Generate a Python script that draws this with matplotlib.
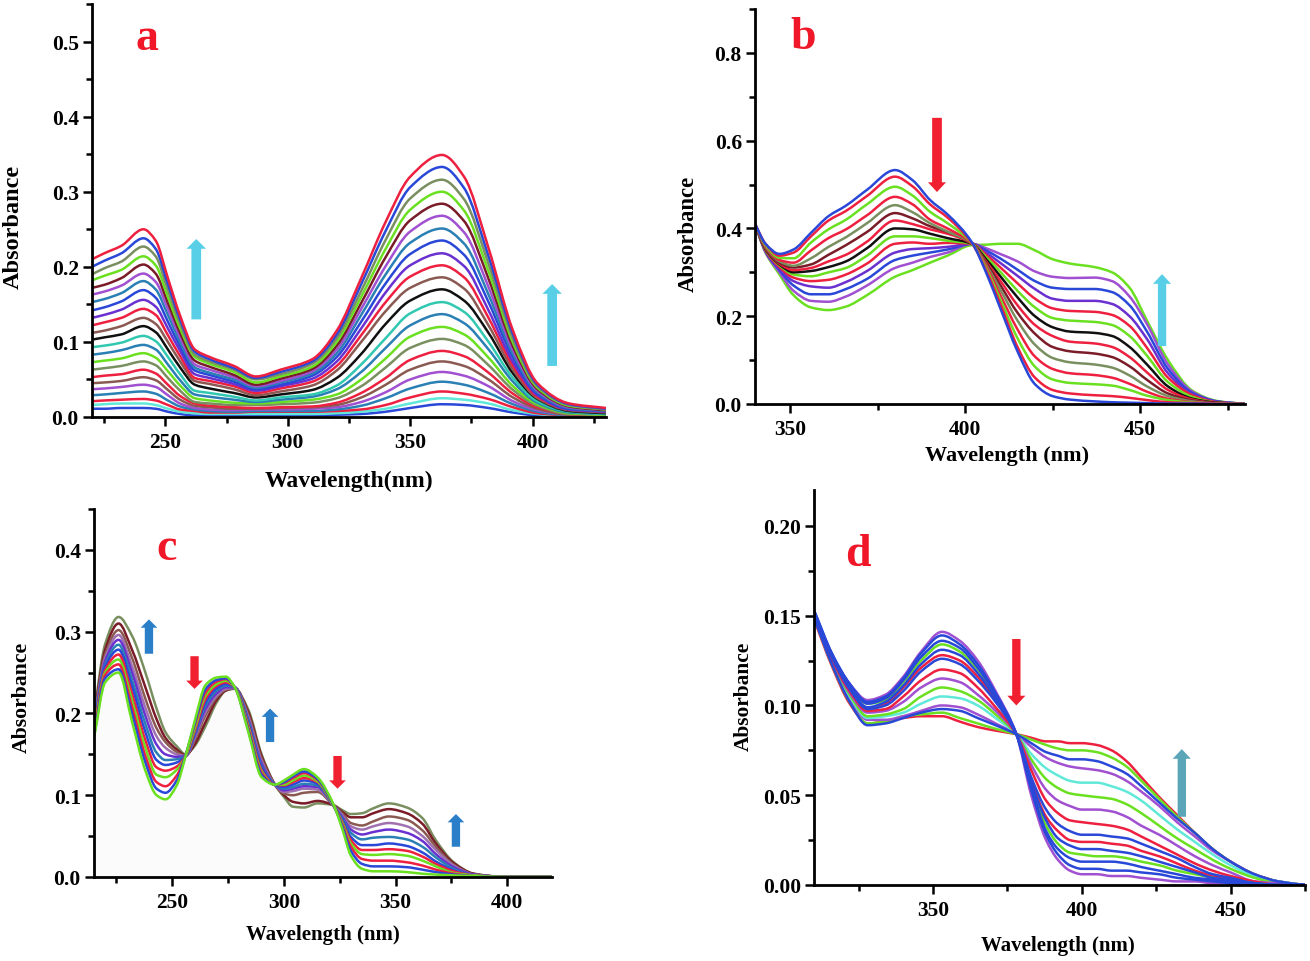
import matplotlib
matplotlib.use('Agg')
import matplotlib.pyplot as plt
import numpy as np
from matplotlib.patches import PathPatch
from matplotlib.path import Path
from matplotlib.ticker import MultipleLocator, FormatStrFormatter

plt.rcParams['font.family'] = ['Liberation Serif', 'DejaVu Serif']
plt.rcParams['font.weight'] = 'bold'

# all absorbance rows below are in units of 0.001
RED = '#ee2040'; BLUE = '#2a48d8'; GREEN = '#6ae020'; PURPLE = '#a050d0'; VIOLET = '#6a30d0'
OLIVE = '#7a8f60'; DKRED = '#7a1c28'; TEAL = '#2a80b4'; BROWN = '#8a5a52'; BLACK = '#101010'
AQUA = '#30c8b0'; MAUVE = '#a070b0'; LTAQUA = '#60e8d8'

wl_a = [220, 225, 232, 241, 246, 251, 256, 262, 268, 278, 287, 297, 310, 320, 330, 340, 350, 363, 372, 382, 392, 402, 415, 430]
abs_a = [
    [11, 11, 12, 12, 11, 7, 4, 2, 2, 2, 2, 2, 2, 3, 4, 7, 12, 17, 16, 12, 6, 2, 1, 0],
    [16, 17, 18, 18, 16, 11, 7, 5, 4, 4, 4, 4, 4, 5, 7, 11, 18, 25, 23, 18, 9, 4, 1, 1],
    [21, 22, 23, 24, 22, 16, 10, 8, 6, 6, 7, 7, 7, 8, 10, 16, 26, 34, 31, 24, 13, 5, 2, 1],
    [29, 30, 32, 34, 31, 22, 14, 10, 8, 7, 8, 8, 8, 10, 15, 25, 38, 47, 43, 32, 17, 7, 2, 1],
    [37, 38, 40, 43, 40, 29, 18, 12, 10, 9, 10, 10, 11, 13, 20, 33, 50, 60, 55, 41, 21, 9, 3, 2],
    [45, 46, 48, 53, 49, 36, 23, 15, 13, 11, 11, 12, 13, 16, 26, 43, 63, 74, 68, 50, 26, 11, 3, 2],
    [53, 55, 57, 63, 58, 43, 28, 18, 15, 13, 12, 13, 14, 19, 32, 52, 76, 88, 81, 59, 31, 13, 4, 2],
    [63, 65, 68, 74, 69, 52, 35, 20, 18, 16, 16, 17, 19, 25, 41, 66, 92, 104, 96, 69, 36, 15, 4, 3],
    [73, 75, 78, 85, 79, 61, 42, 25, 22, 19, 18, 20, 23, 30, 50, 78, 107, 120, 110, 79, 41, 17, 5, 3],
    [83, 85, 89, 96, 90, 70, 49, 30, 27, 23, 20, 23, 27, 37, 60, 92, 122, 137, 125, 90, 47, 19, 6, 4],
    [93, 95, 99, 108, 101, 80, 57, 35, 32, 27, 22, 26, 30, 42, 70, 105, 138, 153, 140, 100, 52, 21, 7, 4],
    [103, 106, 110, 121, 113, 90, 66, 43, 38, 32, 26, 30, 36, 52, 84, 124, 155, 170, 155, 112, 58, 24, 8, 5],
    [112, 115, 121, 132, 124, 100, 74, 48, 44, 37, 29, 34, 42, 62, 100, 141, 172, 186, 171, 122, 63, 25, 9, 6],
    [122, 126, 132, 144, 136, 109, 81, 52, 48, 41, 32, 38, 47, 68, 109, 153, 187, 202, 186, 132, 68, 27, 10, 7],
    [132, 136, 143, 156, 147, 118, 88, 57, 52, 44, 35, 41, 51, 74, 118, 166, 202, 218, 201, 142, 73, 29, 10, 7],
    [142, 146, 154, 169, 159, 127, 94, 62, 56, 47, 37, 43, 55, 80, 127, 178, 217, 235, 216, 153, 79, 31, 11, 8],
    [153, 157, 165, 181, 170, 136, 100, 66, 59, 50, 39, 46, 58, 85, 136, 190, 232, 251, 231, 163, 84, 33, 12, 8],
    [163, 167, 175, 191, 180, 144, 106, 70, 63, 53, 41, 48, 61, 90, 144, 201, 247, 268, 246, 173, 89, 35, 13, 9],
    [172, 176, 185, 203, 191, 152, 112, 75, 67, 56, 43, 51, 64, 95, 152, 213, 262, 284, 261, 184, 94, 37, 14, 9],
    [182, 188, 196, 214, 202, 160, 118, 80, 71, 60, 46, 54, 67, 100, 160, 224, 276, 300, 275, 194, 99, 39, 15, 10],
    [190, 198, 207, 227, 214, 169, 124, 83, 74, 63, 50, 57, 71, 105, 168, 236, 291, 316, 290, 204, 104, 41, 16, 10],
    [200, 208, 218, 238, 224, 177, 130, 87, 77, 65, 52, 60, 74, 110, 177, 248, 306, 333, 305, 214, 110, 43, 17, 11],
    [210, 218, 228, 250, 235, 185, 135, 90, 80, 68, 54, 63, 77, 115, 185, 260, 320, 349, 320, 225, 115, 45, 18, 12],
]
colors_a = [BLUE, LTAQUA, RED, TEAL, PURPLE, BROWN, RED, OLIVE, GREEN, TEAL, AQUA, BLACK,
            BROWN, RED, VIOLET, BLUE, TEAL, PURPLE, DKRED, GREEN, OLIVE, BLUE, RED]

wl_b = [340, 343, 347, 351, 356, 361, 366, 372, 380, 385, 390, 395, 402, 406, 410, 415, 420, 425, 430, 437, 442, 447, 452, 458, 465, 472, 480]
abs_b = [
    [410, 345, 295, 248, 220, 214, 222, 248, 290, 305, 322, 338, 362, 363, 365, 365, 350, 330, 320, 312, 300, 265, 190, 100, 30, 7, 0],
    [410, 346, 300, 258, 235, 233, 245, 270, 310, 322, 335, 345, 365, 355, 342, 325, 302, 290, 287, 288, 280, 245, 182, 90, 28, 6, 0],
    [410, 348, 305, 270, 250, 250, 262, 285, 328, 338, 345, 352, 365, 350, 332, 306, 280, 265, 262, 262, 255, 225, 165, 80, 25, 6, 0],
    [410, 349, 308, 280, 268, 265, 278, 303, 345, 353, 355, 358, 365, 345, 322, 292, 262, 240, 235, 235, 228, 200, 148, 70, 22, 5, 0],
    [410, 350, 312, 288, 280, 283, 295, 320, 365, 368, 365, 367, 365, 340, 312, 275, 240, 218, 212, 210, 203, 178, 128, 60, 20, 4, 0],
    [410, 352, 316, 295, 291, 300, 310, 338, 382, 382, 378, 372, 365, 335, 302, 258, 220, 196, 190, 187, 180, 155, 110, 50, 16, 3, 0],
    [410, 353, 318, 300, 303, 312, 325, 355, 400, 398, 388, 378, 365, 330, 292, 243, 200, 175, 165, 162, 155, 130, 90, 40, 12, 3, 0],
    [410, 355, 320, 305, 310, 325, 340, 370, 418, 410, 398, 388, 365, 325, 282, 225, 180, 155, 142, 138, 130, 107, 72, 32, 10, 2, 0],
    [410, 356, 322, 311, 318, 340, 362, 392, 435, 423, 405, 392, 366, 322, 272, 208, 160, 130, 120, 115, 107, 86, 55, 24, 8, 2, 0],
    [410, 358, 325, 315, 332, 358, 380, 412, 453, 437, 412, 393, 366, 318, 262, 190, 135, 105, 95, 90, 83, 65, 40, 18, 6, 1, 0],
    [410, 360, 328, 322, 350, 378, 398, 430, 472, 455, 420, 400, 366, 315, 250, 170, 108, 80, 70, 66, 60, 46, 28, 12, 4, 1, 0],
    [410, 362, 333, 332, 368, 398, 420, 455, 495, 475, 438, 412, 366, 310, 240, 150, 85, 56, 48, 45, 42, 32, 19, 9, 3, 1, 0],
    [410, 365, 338, 345, 382, 418, 440, 474, 518, 496, 455, 425, 366, 305, 230, 130, 60, 32, 24, 20, 18, 14, 9, 4, 2, 1, 0],
    [410, 365, 342, 352, 390, 428, 452, 488, 533, 510, 465, 432, 368, 300, 220, 120, 45, 18, 10, 6, 4, 3, 2, 1, 1, 0, 0],
]
colors_b = [GREEN, PURPLE, BLUE, VIOLET, RED, GREEN, BLACK, RED, DKRED, OLIVE, RED, GREEN, RED, BLUE]

wl_c = [215, 220, 226, 232, 238, 243, 247, 252, 256, 260, 265, 270, 274, 278, 284, 290, 296, 300, 304, 309, 315, 322, 326, 330, 335, 340, 347, 355, 362, 368, 376, 385, 400, 420]
abs_c = [
    [200, 285, 318, 295, 250, 206, 177, 160, 150, 160, 185, 214, 228, 230, 205, 150, 113, 98, 86, 85, 90, 88, 82, 77, 78, 84, 90, 85, 72, 45, 18, 4, 0, 0],
    [195, 278, 310, 278, 232, 193, 170, 156, 149, 162, 190, 217, 228, 231, 202, 148, 113, 100, 92, 90, 93, 88, 80, 73, 73, 78, 83, 78, 65, 41, 17, 4, 0, 0],
    [192, 272, 302, 268, 218, 182, 165, 153, 148, 167, 198, 220, 229, 231, 199, 145, 113, 102, 100, 103, 104, 88, 78, 66, 63, 68, 74, 70, 57, 37, 15, 3, 0, 0],
    [190, 268, 296, 258, 207, 172, 158, 150, 148, 170, 202, 222, 230, 231, 196, 142, 113, 104, 105, 108, 107, 88, 76, 62, 58, 62, 66, 62, 50, 33, 14, 3, 0, 0],
    [187, 264, 290, 250, 197, 162, 150, 147, 148, 172, 206, 225, 232, 232, 193, 139, 113, 106, 108, 111, 110, 88, 74, 58, 52, 55, 58, 54, 44, 28, 12, 3, 0, 0],
    [185, 260, 284, 241, 187, 152, 143, 144, 148, 174, 210, 228, 234, 232, 191, 136, 113, 108, 110, 114, 112, 88, 72, 54, 46, 48, 49, 46, 37, 24, 10, 2, 0, 0],
    [182, 257, 278, 233, 177, 143, 137, 140, 148, 176, 214, 231, 236, 232, 188, 134, 113, 110, 113, 118, 114, 88, 70, 49, 39, 39, 41, 38, 30, 19, 8, 2, 0, 0],
    [180, 253, 272, 224, 167, 134, 130, 135, 148, 178, 218, 234, 238, 232, 186, 131, 113, 112, 116, 121, 116, 88, 68, 45, 33, 33, 34, 32, 25, 16, 7, 2, 0, 0],
    [178, 250, 266, 216, 158, 125, 122, 131, 148, 181, 222, 236, 240, 232, 184, 129, 113, 113, 118, 124, 117, 88, 67, 41, 28, 27, 28, 26, 20, 13, 5, 2, 0, 0],
    [175, 247, 260, 208, 148, 116, 111, 124, 149, 185, 226, 239, 242, 232, 182, 127, 113, 115, 121, 127, 119, 89, 65, 37, 22, 20, 20, 18, 14, 9, 4, 1, 0, 0],
    [172, 243, 254, 200, 140, 108, 103, 118, 149, 187, 230, 241, 243, 232, 180, 125, 113, 116, 123, 129, 120, 89, 63, 32, 16, 13, 13, 12, 9, 6, 3, 1, 0, 0],
    [170, 238, 250, 190, 130, 100, 95, 112, 148, 190, 235, 244, 245, 232, 178, 122, 113, 118, 125, 132, 122, 90, 60, 26, 10, 7, 7, 6, 4, 3, 2, 1, 0, 0],
]
colors_c = [OLIVE, DKRED, BROWN, MAUVE, VIOLET, TEAL, BLUE, RED, GREEN, RED, BLUE, GREEN]

wl_d = [310, 316, 322, 328, 334, 340, 346, 353, 359, 365, 371, 378, 383, 388, 392, 396, 400, 405, 410, 415, 420, 426, 432, 438, 444, 450, 458, 466, 475]
abs_d = [
    [148, 122, 101, 90, 91, 93, 94, 94, 91, 88, 86, 84, 82, 80, 80, 79, 79, 78, 75, 69, 60, 49, 39, 29, 20, 13, 6, 2, 0],
    [149, 123, 102, 90, 91, 94, 95, 96, 93, 90, 87, 84, 81, 78, 76, 75, 75, 74, 71, 66, 58, 48, 38, 29, 20, 13, 6, 2, 0],
    [149, 124, 104, 92, 92, 94, 97, 100, 99, 95, 90, 84, 77, 71, 68, 66, 65, 64, 62, 58, 52, 44, 35, 27, 19, 13, 6, 2, 0],
    [150, 124, 105, 93, 94, 96, 101, 105, 104, 100, 93, 84, 73, 65, 61, 58, 57, 57, 55, 52, 47, 39, 31, 24, 17, 11, 5, 2, 0],
    [150, 125, 106, 94, 95, 98, 105, 110, 108, 103, 95, 84, 70, 59, 54, 51, 50, 49, 48, 45, 40, 33, 26, 20, 14, 9, 4, 1, 0],
    [150, 126, 107, 96, 97, 102, 110, 115, 113, 106, 97, 84, 67, 53, 47, 44, 42, 42, 41, 38, 33, 28, 22, 16, 11, 7, 2, 1, 0],
    [151, 126, 108, 97, 98, 105, 114, 120, 118, 110, 99, 84, 64, 47, 40, 36, 35, 34, 33, 31, 27, 22, 17, 12, 8, 5, 2, 0, 0],
    [151, 127, 110, 98, 101, 110, 121, 128, 125, 116, 103, 84, 58, 38, 30, 25, 24, 24, 23, 22, 19, 16, 12, 8, 5, 3, 1, 0, 0],
    [152, 128, 111, 101, 103, 113, 125, 134, 130, 120, 105, 84, 56, 33, 23, 18, 17, 16, 16, 15, 13, 11, 8, 6, 4, 2, 1, 0, 0],
    [152, 128, 112, 103, 106, 116, 130, 141, 136, 125, 108, 84, 50, 25, 14, 8, 6, 6, 5, 5, 4, 3, 2, 2, 1, 1, 0, 0, 0],
    [151, 127, 109, 98, 100, 108, 119, 126, 123, 114, 102, 84, 60, 42, 34, 30, 28, 28, 27, 26, 23, 19, 15, 10, 6, 4, 1, 0, 0],
    [152, 128, 110, 99, 102, 111, 123, 131, 128, 118, 104, 84, 57, 36, 26, 22, 20, 20, 19, 18, 16, 13, 10, 7, 4, 3, 1, 0, 0],
    [153, 129, 112, 101, 104, 114, 127, 136, 132, 121, 106, 84, 55, 30, 20, 15, 13, 13, 13, 12, 10, 8, 6, 4, 3, 2, 1, 0, 0],
    [153, 129, 112, 102, 105, 115, 129, 139, 134, 123, 107, 84, 53, 28, 17, 11, 9, 9, 8, 8, 7, 6, 4, 3, 2, 1, 0, 0, 0],
    [149, 123, 102, 89, 90, 93, 96, 98, 97, 93, 89, 84, 79, 74, 72, 70, 70, 69, 66, 62, 55, 46, 37, 29, 20, 13, 6, 2, 0],
]
colors_d = [RED, GREEN, PURPLE, LTAQUA, GREEN, PURPLE, RED, RED, GREEN, PURPLE, BLUE, BLUE, BLUE, BLUE, BLUE]

W, H = 1310, 962
fig = plt.figure(figsize=(W / 100, H / 100), dpi=100)


def make_axes(box, xlim, ylim, xmajor, ymajor, yfmt):
    left, right, top, bottom = box
    ax = fig.add_axes([left / W, 1 - bottom / H, (right - left) / W, (bottom - top) / H])
    ax.set_xlim(xlim)
    ax.set_ylim(ylim)
    ax.spines['top'].set_visible(False)
    ax.spines['right'].set_visible(False)
    ax.spines['left'].set_linewidth(2.0)
    ax.spines['bottom'].set_linewidth(2.0)
    ax.xaxis.set_major_locator(MultipleLocator(xmajor))
    ax.xaxis.set_minor_locator(MultipleLocator(xmajor / 2))
    ax.yaxis.set_major_locator(MultipleLocator(ymajor))
    ax.yaxis.set_minor_locator(MultipleLocator(ymajor / 2))
    ax.yaxis.set_major_formatter(FormatStrFormatter(yfmt))
    ax.tick_params(which='major', length=6.5, width=1.8, labelsize=15.5)
    ax.tick_params(which='minor', length=4, width=1.8)
    ax.tick_params(axis='x', which='major', pad=4.5)
    ax.tick_params(axis='y', which='major', pad=3)
    return ax


def curve_path(x, y):
    # bezier segments through the read values, flat at local peaks and dips
    x = np.asarray(x, float)
    dx = np.diff(x)
    s = np.diff(y) / dx
    m = np.zeros(len(x))
    m[0], m[-1] = s[0], s[-1]
    for i in range(1, len(x) - 1):
        if s[i - 1] * s[i] > 0:
            w1, w2 = 2 * dx[i] + dx[i - 1], dx[i] + 2 * dx[i - 1]
            m[i] = (w1 + w2) / (w1 / s[i - 1] + w2 / s[i])
    verts = [(x[0], y[0])]
    codes = [Path.MOVETO]
    for i in range(len(x) - 1):
        verts += [(x[i] + dx[i] / 3, y[i] + m[i] * dx[i] / 3),
                  (x[i + 1] - dx[i] / 3, y[i + 1] - m[i + 1] * dx[i] / 3),
                  (x[i + 1], y[i + 1])]
        codes += [Path.CURVE4] * 3
    return Path(verts, codes)


def draw_curves(ax, wl, rows, colors):
    for row, col in zip(rows, colors):
        ax.add_patch(PathPatch(curve_path(wl, np.array(row) / 1000), fill=False, edgecolor=col,
                               lw=1.8, joinstyle='round'))


def arrow(ax, x, y0, y1, col, shaft, head, hlen):
    ax.annotate('', xy=(x, y1), xytext=(x, y0),
                arrowprops=dict(width=shaft, headwidth=head, headlength=hlen, color=col, shrink=0, lw=0), zorder=5)


def px_text(x, y, s, **kw):
    fig.text(x / W, 1 - y / H, s, ha='center', va='center', fontweight='bold', **kw)


ax_a = make_axes((92, 606, 5, 418), (220, 430), (0, 0.55), 50, 0.1, '%.1f')
draw_curves(ax_a, wl_a, abs_a, colors_a)
arrow(ax_a, 262.6, 0.130, 0.237, '#58cfe6', 7, 14, 7)
arrow(ax_a, 408, 0.068, 0.177, '#58cfe6', 7, 14, 7)

ax_b = make_axes((755, 1245, 10, 405), (340, 480), (0, 0.9), 50, 0.2, '%.1f')
draw_curves(ax_b, wl_b, abs_b, colors_b)
arrow(ax_b, 392, 0.652, 0.483, '#f02030', 7, 13, 7)
arrow(ax_b, 456.3, 0.132, 0.296, '#58cfe6', 6, 13, 7)

ax_c = make_axes((94, 552, 510, 878), (215, 420), (0, 0.45), 50, 0.1, '%.1f')
ax_c.fill_between(wl_c, np.array(abs_c[-1]) / 1000, color='#fbfbfb', lw=0, zorder=0)
draw_curves(ax_c, wl_c, abs_c, colors_c)
arrow(ax_c, 239.6, 0.273, 0.315, '#2a7fc8', 6, 12, 6)
arrow(ax_c, 260, 0.270, 0.230, '#f02030', 6, 12, 6)
arrow(ax_c, 293.8, 0.165, 0.206, '#2a7fc8', 6, 12, 6)
arrow(ax_c, 324, 0.148, 0.108, '#f02030', 6, 12, 6)
arrow(ax_c, 377, 0.037, 0.077, '#2a7fc8', 6, 12, 6)

ax_d = make_axes((814, 1305, 491, 886), (310, 475), (0, 0.22), 50, 0.05, '%.2f')
draw_curves(ax_d, wl_d, abs_d, colors_d)
arrow(ax_d, 378, 0.137, 0.100, '#f02030', 6, 13, 7)
arrow(ax_d, 433.6, 0.038, 0.0757, '#5aa5b8', 6, 13, 7)

px_text(147, 39, 'a', fontsize=33, color='#f01828')
px_text(803, 38, 'b', fontsize=33, color='#f01828')
px_text(167, 549, 'c', fontsize=33, color='#f01828')
px_text(858, 555, 'd', fontsize=33, color='#f01828')

px_text(349, 481, 'Wavelength(nm)', fontsize=17)
px_text(1007, 456, 'Wavelength (nm)', fontsize=16)
px_text(323, 935, 'Wavelength (nm)', fontsize=15)
px_text(1058, 946, 'Wavelength (nm)', fontsize=15)
px_text(13, 227, 'Absorbance', fontsize=17.5, rotation=90)
px_text(688, 234, 'Absorbance', fontsize=16.4, rotation=90)
px_text(22, 697, 'Absorbance', fontsize=15.7, rotation=90)
px_text(744, 696, 'Absorbance', fontsize=15.4, rotation=90)

fig.savefig('out.png', dpi=100)
